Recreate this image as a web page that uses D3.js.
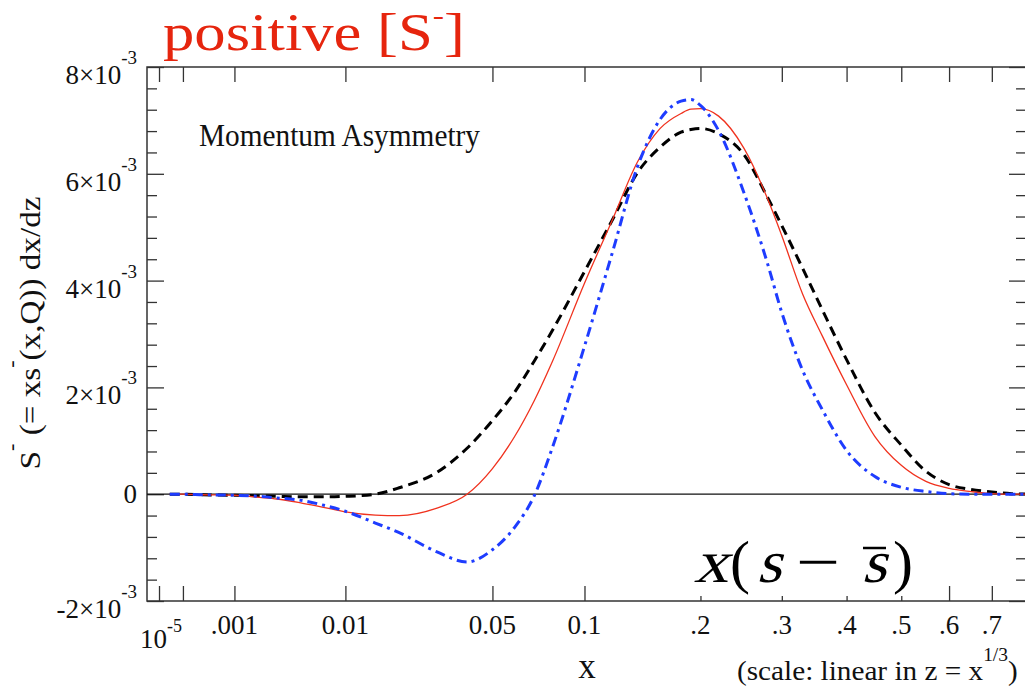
<!DOCTYPE html>
<html>
<head>
<meta charset="utf-8">
<script src="https://cdn.jsdelivr.net/npm/d3@7"></script>
<style>
body { margin: 0; background: #fff; }
svg { display: block; font-family: "Liberation Serif", "Times New Roman", serif; }
</style>
</head>
<body>
<div id="chart"></div>
<script>
// x sample points, curves (values in units of 1e-3)
var xs = [3.5e-5, 1e-4, 3e-4, 0.001, 0.002, 0.003, 0.005, 0.007, 0.01, 0.015, 0.02, 0.03, 0.04, 0.05, 0.06, 0.07, 0.08, 0.1, 0.12, 0.14, 0.16, 0.18, 0.19, 0.2, 0.22, 0.25, 0.28, 0.3, 0.33, 0.36, 0.4, 0.45, 0.5, 0.55, 0.6, 0.65, 0.7, 0.75, 0.8];
var blackDashed = [0, 0, -0.01, -0.02, -0.03, -0.04, -0.05, -0.05, -0.04, 0.0, 0.12, 0.41, 0.86, 1.38, 1.91, 2.5, 3.07, 4.17, 5.14, 6.02, 6.5, 6.78, 6.83, 6.85, 6.75, 6.36, 5.57, 5.03, 4.23, 3.46, 2.52, 1.53, 0.92, 0.43, 0.18, 0.09, 0.04, 0.01, 0];
var redSolid = [0, 0, -0.01, -0.02, -0.06, -0.09, -0.17, -0.24, -0.33, -0.39, -0.40, -0.26, 0.0, 0.48, 1.08, 1.76, 2.49, 3.95, 5.14, 6.22, 6.85, 7.13, 7.21, 7.22, 7.08, 6.48, 5.55, 4.84, 3.75, 2.97, 2.05, 1.08, 0.54, 0.24, 0.11, 0.05, 0.01, 0, 0];
var blueDashDot = [0, 0, -0.01, -0.02, -0.04, -0.07, -0.12, -0.2, -0.32, -0.54, -0.72, -1.08, -1.27, -1.04, -0.62, -0.02, 0.88, 2.77, 4.53, 6.13, 7.02, 7.36, 7.39, 7.28, 6.81, 5.65, 4.34, 3.4, 2.32, 1.59, 0.82, 0.33, 0.13, 0.05, 0.01, 0, 0, 0, 0];

var xTicks = [1e-5, 1e-4, 0.001, 0.01, 0.05, 0.1, 0.2, 0.3, 0.4, 0.5, 0.6, 0.7];
var xLabels = [[0.001, ".001"], [0.01, "0.01"], [0.05, "0.05"], [0.1, "0.1"], [0.2, ".2"], [0.3, ".3"], [0.4, ".4"], [0.5, ".5"], [0.6, ".6"], [0.7, ".7"]];
var yMajor = [-2, 0, 2, 4, 6, 8];
var yLabels = [[8, "8×10"], [6, "6×10"], [4, "4×10"], [2, "2×10"], [-2, "-2×10"]];

var W = 1025, H = 689;
var box = { left: 147, right: 1026, top: 67, bottom: 601 };

var svg = d3.select("#chart").append("svg").attr("width", W).attr("height", H);

// x axis is linear in z = x^(1/3)
var x = d3.scalePow().exponent(1 / 3).domain([7.4e-7, 0.7875]).range([box.left, box.right]);
var y = d3.scaleLinear().domain([-2, 8]).range([box.bottom, box.top]);

var yMinor = d3.range(-2, 8.001, 0.4).map(function(v) { return +v.toFixed(1); })
	.filter(function(v) { return yMajor.indexOf(v) < 0; });

function styleAxis(g) {
	g.select(".domain").remove();
	g.selectAll(".tick line").attr("stroke", "#333").attr("stroke-width", 1.3);
	g.selectAll(".tick text").remove();
}

// ticks, all pointing inward
svg.append("g").attr("transform", "translate(0," + box.bottom + ")")
	.call(d3.axisBottom(x).tickValues(xTicks).tickSize(-15)).call(styleAxis);
svg.append("g").attr("transform", "translate(0," + box.top + ")")
	.call(d3.axisTop(x).tickValues(xTicks).tickSize(-15)).call(styleAxis);
svg.append("g").attr("transform", "translate(" + box.left + ",0)")
	.call(d3.axisLeft(y).tickValues(yMajor).tickSize(-17)).call(styleAxis);
svg.append("g").attr("transform", "translate(" + box.left + ",0)")
	.call(d3.axisLeft(y).tickValues(yMinor).tickSize(-10)).call(styleAxis);
svg.append("g").attr("transform", "translate(" + box.right + ",0)")
	.call(d3.axisRight(y).tickValues(yMajor).tickSize(-17)).call(styleAxis);
svg.append("g").attr("transform", "translate(" + box.right + ",0)")
	.call(d3.axisRight(y).tickValues(yMinor).tickSize(-10)).call(styleAxis);

// frame
svg.append("path")
	.attr("d", "M" + box.right + "," + box.top + "H" + box.left + "V" + box.bottom + "H" + box.right + "V" + box.top)
	.attr("fill", "none").attr("stroke", "#333").attr("stroke-width", 1.5);

// zero line
svg.append("line")
	.attr("x1", box.left).attr("x2", box.right)
	.attr("y1", y(0)).attr("y2", y(0))
	.attr("stroke", "#111").attr("stroke-width", 1.3);

// curves
svg.append("clipPath").attr("id", "clip").append("rect")
	.attr("x", box.left).attr("y", box.top)
	.attr("width", box.right - box.left).attr("height", box.bottom - box.top);

var line = d3.line()
	.x(function(d) { return x(d[0]); })
	.y(function(d) { return y(d[1]); })
	.curve(d3.curveMonotoneX);

var series = [
	{ vals: blackDashed, color: "#000", width: 3, dash: "10,6" },
	{ vals: redSolid, color: "#f0321e", width: 1.3, dash: null },
	{ vals: blueDashDot, color: "#1e3cff", width: 3, dash: "10,5,3,5" }
];
var plot = svg.append("g").attr("clip-path", "url(#clip)");
series.forEach(function(s) {
	plot.append("path")
		.datum(xs.map(function(v, i) { return [v, s.vals[i]]; }))
		.attr("d", line)
		.attr("fill", "none")
		.attr("stroke", s.color)
		.attr("stroke-width", s.width)
		.attr("stroke-dasharray", s.dash);
});

// y tick labels
var fs = 27;
yLabels.forEach(function(l) {
	var t = svg.append("text").attr("x", 137).attr("y", y(l[0]) + 17)
		.attr("text-anchor", "end").attr("font-size", fs).attr("fill", "#111");
	t.append("tspan").text(l[1]);
	t.append("tspan").attr("font-size", 19).attr("dy", -20).text("-3");
});
svg.append("text").attr("x", 137).attr("y", y(0) + 9).attr("text-anchor", "end")
	.attr("font-size", fs).attr("fill", "#111").text("0");

// x tick labels
xLabels.forEach(function(l) {
	svg.append("text").attr("x", x(l[0])).attr("y", 634).attr("text-anchor", "middle")
		.attr("font-size", fs).attr("fill", "#111").text(l[1]);
});
var t5 = svg.append("text").attr("x", x(1e-5) + 2).attr("y", 648).attr("text-anchor", "middle")
	.attr("font-size", fs).attr("fill", "#111");
t5.append("tspan").text("10");
t5.append("tspan").attr("font-size", 18).attr("dy", -16).text("-5");

// helper: stretch a text horizontally to a target width
function fit(sel, tx, ty, w, rot) {
	var bb = sel.node().getBBox();
	var s = w / bb.width;
	sel.attr("transform", "translate(" + tx + "," + ty + ")" + (rot ? " rotate(" + rot + ")" : "") + " scale(" + s + ",1)");
}

// axis titles
svg.append("text").attr("x", 587).attr("y", 678).attr("text-anchor", "middle")
	.attr("font-size", 35).attr("fill", "#111").text("x");

var sc = svg.append("text").attr("font-size", 27).attr("fill", "#111");
sc.append("tspan").text("(scale: linear in z = x");
sc.append("tspan").attr("font-size", 18).attr("dy", -19).text("1/3");
sc.append("tspan").attr("dy", 19).text(")");
fit(sc, 737, 680, 281);

var yl = svg.append("text").attr("font-size", 30).attr("fill", "#111").attr("text-anchor", "middle");
yl.append("tspan").text("S");
yl.append("tspan").attr("font-size", 20).attr("dy", -22).text("-");
yl.append("tspan").attr("dy", 22).text(" (= xs");
yl.append("tspan").attr("font-size", 20).attr("dy", -22).text("-");
yl.append("tspan").attr("dy", 22).text("(x,Q)) dx/dz");
fit(yl, 40, 333, 273, -90);

// title
var ti = svg.append("text").attr("font-size", 52).attr("fill", "#e6250e");
ti.append("tspan").text("positive [S");
ti.append("tspan").attr("font-size", 28).attr("dy", -26).text("-");
ti.append("tspan").attr("dy", 26).text("]");
fit(ti, 163, 50, 302);

// inset label
var mo = svg.append("text").attr("font-size", 32).attr("fill", "#111").text("Momentum Asymmetry");
fit(mo, 199, 146, 281);

// x(s - sbar) label on a white patch; italics made by skewing the serif face
svg.append("rect").attr("x", 686).attr("y", 528).attr("width", 234).attr("height", 68).attr("fill", "#fff");
var glyphs = [
	{ t: "x", cx: 711, it: true, sx: 1.15 },
	{ t: "(", cx: 740, it: false, sx: 1 },
	{ t: "s", cx: 769, it: true, sx: 1.05 },
	{ t: "\u2212", cx: 818, it: false, sx: 1.3 },
	{ t: "s", cx: 874, it: true, sx: 1.05 },
	{ t: ")", cx: 903, it: false, sx: 1 }
];
glyphs.forEach(function(g) {
	svg.append("text")
		.attr("transform", "translate(" + g.cx + ",582)" + (g.it ? " skewX(-15)" : "") + " scale(" + g.sx + ",1)")
		.attr("text-anchor", "middle").attr("font-size", 60).attr("fill", "#000")
		.text(g.t);
});
svg.append("line").attr("x1", 863).attr("x2", 886).attr("y1", 548).attr("y2", 548)
	.attr("stroke", "#000").attr("stroke-width", 2.5);
</script>
</body>
</html>
